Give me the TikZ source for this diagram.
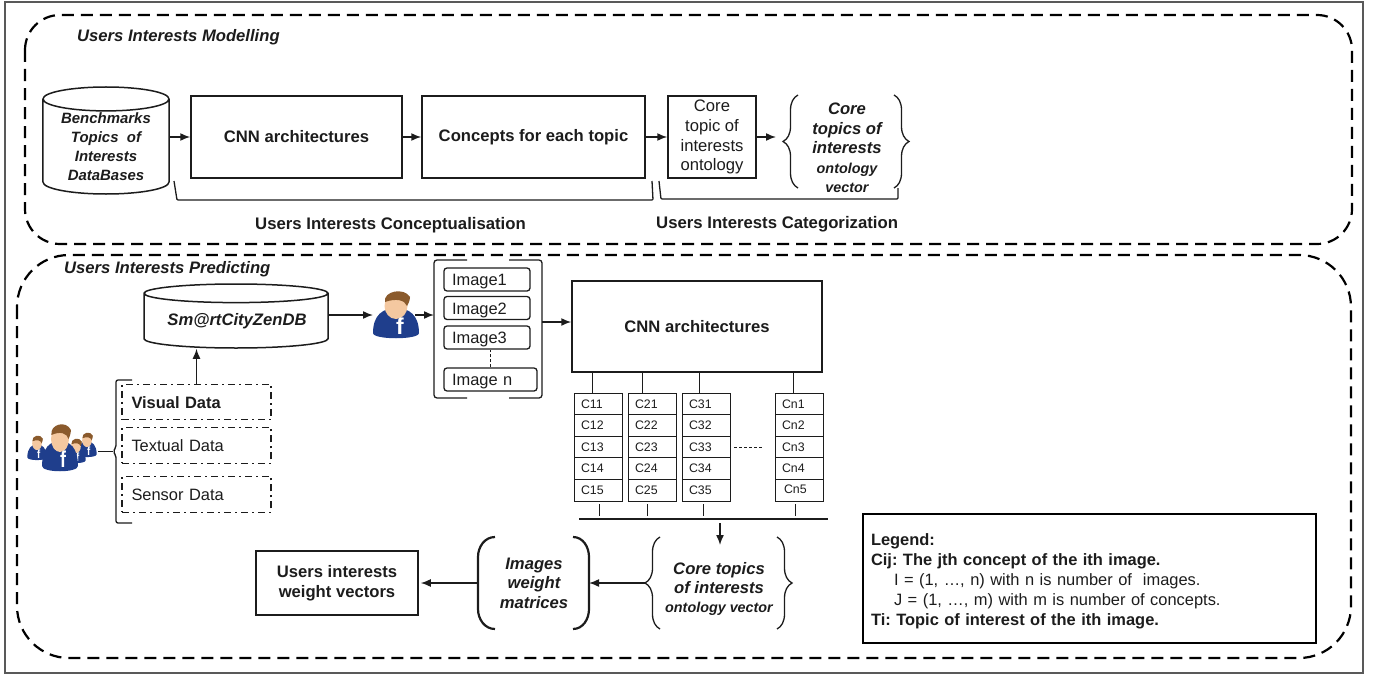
\documentclass[tikz,border=0pt]{standalone}
\usepackage{fontspec}
\setmainfont{Liberation Sans}
\usetikzlibrary{arrows.meta,shapes.geometric,decorations.pathreplacing}
\definecolor{inkc}{HTML}{1C1C1C}
\definecolor{fbblue}{HTML}{1F3E8C}
\definecolor{fbskin}{HTML}{F4C8A0}
\definecolor{fbhair}{HTML}{8A5A2C}
\tikzset{
 region/.style={draw=black,line width=2.2bp,dash pattern=on 12bp off 7bp},
 flow/.style={-{Latex[length=10bp,width=8bp]},line width=1.5bp,draw=inkc},
 plainl/.style={line width=1.3bp,draw=inkc},
 boxb/.style={draw=inkc,line width=1.5bp,align=center,text=inkc,font=\fontsize{16.7}{20}\selectfont\bfseries},
 boxr/.style={boxb,font=\fontsize{16.7}{20}\selectfont},
 captxt/.style={text=inkc,inner sep=0,font=\fontsize{16.8}{20}\selectfont\bfseries},
 capi/.style={text=inkc,inner sep=0,align=center,font=\fontsize{16.7}{19.5}\selectfont\bfseries\itshape},
 dbase/.style={draw=inkc,line width=1.5bp,cylinder,shape border rotate=90,anchor=shape center},
 imgbox/.style={draw=inkc,line width=1.3bp,rounded corners=3bp,minimum height=23bp,text width=70bp,text height=12.5bp,text depth=0bp,inner xsep=8bp,inner ysep=0,text=inkc,font=\fontsize{16.5}{20}\selectfont},
 srcbox/.style={draw=inkc,line width=1.3bp,dash pattern=on 7bp off 4bp on 2bp off 4bp,minimum width=149bp,text width=130bp,text height=12.5bp,text depth=0bp,inner xsep=9.5bp,minimum height=35.5bp,text=inkc,font=\fontsize{16.5}{20}\selectfont},
 cellc/.style={draw=inkc,line width=.8bp,minimum height=21.6bp,minimum width=48bp,text width=34bp,inner xsep=7bp,inner ysep=0,text=inkc,font=\fontsize{12.4}{14}\selectfont},
 emptyn/.style={inner sep=0,outer sep=0},
 curly/.style={draw=inkc,line width=1.3bp,decorate,decoration={brace,amplitude=15bp}},
 fbmark/.style={text=white,inner sep=0,transform shape,font=\fontsize{23}{23}\selectfont\bfseries},
 fbuser/.pic={
  \node[emptyn,minimum width=46bp,minimum height=47bp] (-box) at (0,0) {};
  \fill[fbblue] (-23,18) .. controls (-23,0) and (-13,-7) .. (0,-7) .. controls (13,-7) and (23,0) .. (23,18) .. controls (23,25) and (-23,25) .. (-23,18) -- cycle;
  \fill[fbskin] (0,-9) ellipse (11.5 and 13);
  \fill[fbhair] (-11,-13) .. controls (-13,-24) and (8,-28) .. (14,-18) .. controls (14,-14) and (12,-11) .. (11,-9) .. controls (9,-15) and (0,-17) .. (-11,-13) -- cycle;
  \node[fbmark] (-f) at (4,11) {f};
 }
}
\begin{document}
\frenchspacing
\begin{tikzpicture}[x=1bp,y=-1bp]
 \useasboundingbox (0,0) rectangle (1374,677);
 \draw[draw=black!65,line width=1.2bp] (5,2) rectangle (1363,673);
 \draw[region,rounded corners=35bp] (25,15) rectangle (1352,244);
 \draw[region,rounded corners=52bp] (17,255) rectangle (1351,658);
 % modelling
 \node[capi,anchor=west] (titlem) at (77,37.5) {Users Interests Modelling};
 \node[dbase,minimum width=126bp,minimum height=107bp,aspect=3.6] (bench) at (106,140.5) {};
 \node[capi,font=\fontsize{15}{19}\selectfont\bfseries\itshape] (benchtxt) at (106,147) {Benchmarks\\Topics\ \ of\\Interests\\DataBases};
 \node[boxb,minimum width=211bp,minimum height=82bp] (cnna) at (296.5,137) {CNN architectures};
 \node[boxb,minimum width=223bp,minimum height=82bp] (conc) at (533.5,137) {Concepts for each topic};
 \node[boxr,minimum width=88bp,minimum height=82bp,inner sep=0] (core) at (712,137) {Core\\topic of\\interests\\ontology};
 \node[emptyn,minimum width=96bp,minimum height=93bp] (veca) at (846,141.5) {};
 \node[capi] (vecatxt) at (847,148) {Core\\topics of\\interests\\{\fontsize{14.4}{18}\selectfont ontology}\\{\fontsize{14.4}{18}\selectfont vector}};
 \draw[curly] (veca.south west) -- (veca.north west);
 \draw[curly] (veca.north east) -- (veca.south east);
 \draw[flow] (cnna.west -| bench.east) -- (cnna.west);
 \draw[flow] (cnna.east) -- (conc.west);
 \draw[flow] (conc.east) -- (core.west);
 \draw[flow] (core.east) -- ([xshift=-22bp]veca.west |- core.east);
 \draw[plainl,rounded corners=1bp] (174,181) -- (177,200) -- (653,200) -- (652,181);
 \draw[plainl,rounded corners=1bp] (659,181) -- (661,199) -- (898,199) -- (898,188);
 \node[captxt,anchor=west] (capcon) at (255,225.5) {Users Interests Conceptualisation};
 \node[captxt,anchor=west] (capcat) at (656,224.5) {Users Interests Categorization};
 % predicting
 \node[capi,anchor=west] (titlep) at (64,269.5) {Users Interests Predicting};
 \node[dbase,minimum width=184bp,minimum height=64bp,aspect=2.8] (smart) at (236,316) {};
 \node[capi] (smarttxt) at (237,321) {Sm@rtCityZenDB};
 \pic (userone) at (396,315) {fbuser};
 \pic[xscale=.42,yscale=.52] (usera) at (37,448) {fbuser};
 \pic[xscale=.42,yscale=.52] (userb) at (87,445) {fbuser};
 \pic[xscale=.42,yscale=.52] (userc) at (76,451) {fbuser};
 \pic[xscale=.78,yscale=1] (userd) at (60,448) {fbuser};
 \node[emptyn,minimum width=70bp,minimum height=49bp] (users) at (63,447.5) {};
 \node[emptyn,minimum width=108bp,minimum height=138bp] (imgs) at (488,329) {};
 \draw[plainl,rounded corners=3bp] ([xshift=33bp]imgs.north west) -- (imgs.north west) -- (imgs.south west) -- ([xshift=33bp]imgs.south west);
 \draw[plainl,rounded corners=3bp] ([xshift=-33bp]imgs.north east) -- (imgs.north east) -- (imgs.south east) -- ([xshift=-33bp]imgs.south east);
 \node[imgbox,minimum width=86bp] (img1) at (487,279.5) {Image1};
 \node[imgbox,minimum width=86bp] (img2) at (487,308) {Image2};
 \node[imgbox,minimum width=86bp] (img3) at (487,337.5) {Image3};
 \node[imgbox,minimum width=93bp,text width=77bp] (imgn) at (490.5,379.5) {Image n};
 \draw[densely dashed,line width=.6bp,draw=inkc] (imgn.north) -- (imgn.north |- img3.south);
 \node[boxb,minimum width=250bp,minimum height=91bp] (cnnb) at (697,326.5) {CNN architectures};
 \draw[flow] (smart.east |- userone-box.west) -- (userone-box.west);
 \draw[flow] ([xshift=-4bp]userone-box.east) -- (imgs.west |- userone-box.east);
 \draw[flow] ([yshift=4.5bp]cnnb.west -| imgs.east) -- ([yshift=4.5bp]cnnb.west);
 \node[emptyn,minimum width=16bp,minimum height=143bp] (srcs) at (124,451.5) {};
 \draw[plainl,rounded corners=2bp] (srcs.north east) -- (srcs.north west) -- ([yshift=4bp]srcs.west) -- ([xshift=-3bp]srcs.west) -- ([yshift=-4bp]srcs.west) -- (srcs.south west) -- (srcs.south east);
 \draw[plainl] (users.east |- srcs.west) -- ([xshift=-3bp]srcs.west);
 \node[srcbox,font=\fontsize{16.5}{20}\selectfont\bfseries] (visual) at (196.5,402) {Visual Data};
 \node[srcbox] (textual) at (196.5,445.5) {Textual Data};
 \node[srcbox] (sensor) at (196.5,494.5) {Sensor Data};
 \draw[flow] (visual.north) -- (visual.north |- smart.south);
 % concept columns
 \node[cellc] (c11) at (598,403.8) {C11};
 \node[cellc] (c12) at (598,425.4) {C12};
 \node[cellc] (c13) at (598,447) {C13};
 \node[cellc] (c14) at (598,468.6) {C14};
 \node[cellc] (c15) at (598,490.2) {C15};
 \node[cellc] (c21) at (652,403.8) {C21};
 \node[cellc] (c22) at (652,425.4) {C22};
 \node[cellc] (c23) at (652,447) {C23};
 \node[cellc] (c24) at (652,468.6) {C24};
 \node[cellc] (c25) at (652,490.2) {C25};
 \node[cellc] (c31) at (706,403.8) {C31};
 \node[cellc] (c32) at (706,425.4) {C32};
 \node[cellc] (c33) at (706,447) {C33};
 \node[cellc] (c34) at (706,468.6) {C34};
 \node[cellc] (c35) at (706,490.2) {C35};
 \node[cellc] (cn1) at (799,403.8) {Cn1};
 \node[cellc] (cn2) at (799,425.4) {Cn2};
 \node[cellc] (cn3) at (799,447) {Cn3};
 \node[cellc] (cn4) at (799,468.6) {Cn4};
 \node[cellc] (cn5) at (799,490.2) {\raisebox{3bp}{\hspace{2bp}Cn5}};
 \draw[line width=.8bp,draw=inkc] ([xshift=-6bp]c11.north) -- ([xshift=-6bp]c11.north |- cnnb.south);
 \draw[line width=.8bp,draw=inkc] ([xshift=-10bp]c21.north) -- ([xshift=-10bp]c21.north |- cnnb.south);
 \draw[line width=.8bp,draw=inkc] ([xshift=-7bp]c31.north) -- ([xshift=-7bp]c31.north |- cnnb.south);
 \draw[line width=.8bp,draw=inkc] ([xshift=-6bp]cn1.north) -- ([xshift=-6bp]cn1.north |- cnnb.south);
 \draw[densely dashed,line width=.8bp,draw=inkc,shorten <=4bp,shorten >=12bp] (c33.east) -- (cn3.west);
 \coordinate (busl) at (579,519);
 \coordinate (busr) at (828,519);
 \draw[line width=1.6bp,draw=inkc] (busl) -- (busr);
 \draw[line width=.8bp,draw=inkc] ([shift={(1bp,-3bp)}]c15.south) -- ++(0,12);
 \draw[line width=.8bp,draw=inkc] ([shift={(-5bp,-3bp)}]c25.south) -- ++(0,12);
 \draw[line width=.8bp,draw=inkc] ([shift={(-3bp,-3bp)}]c35.south) -- ++(0,12);
 \draw[line width=.8bp,draw=inkc] ([shift={(-4bp,-3bp)}]cn5.south) -- ++(0,12);
 % output row
 \node[emptyn,minimum width=117bp,minimum height=92bp] (vecb) at (718.5,583) {};
 \node[capi] (vecbtxt) at (719,589) {Core topics\\of interests\\{\fontsize{14.4}{18}\selectfont ontology vector}};
 \draw[curly] (vecb.south west) -- (vecb.north west);
 \draw[curly] (vecb.north east) -- (vecb.south east);
 \coordinate (busm) at (720,523);
 \draw[flow] (busm) -- ([yshift=-8bp]vecb.north -| busm);
 \node[capi,emptyn,minimum width=78bp,minimum height=92bp] (imat) at (534,583) {Images\\weight\\matrices};
 \draw[line width=2.2bp,draw=inkc] (imat.north west) to[out=180,in=90] ++(-17,20) -- ++(0,52) to[out=-90,in=180] ++(17,20);
 \draw[line width=2.2bp,draw=inkc] (imat.north east) to[out=0,in=90] ++(16,20) -- ++(0,52) to[out=-90,in=0] ++(-16,20);
 \node[boxb,minimum width=162bp,minimum height=64bp] (uvec) at (337,583) {Users interests\\weight vectors};
 \draw[flow] ([xshift=-15bp]vecb.west) -- ([xshift=16bp]imat.east);
 \draw[flow] ([xshift=-17bp]imat.west) -- ([xshift=2bp]uvec.east);
 % legend
 \node[draw=black,line width=2bp,minimum height=129bp,minimum width=453bp] (legend) at (1089.5,578.5) {};
 \node[text width=437bp,inner sep=0,align=left,text=inkc,font=\fontsize{16.5}{20}\selectfont] (legendtxt) at (1089.5,581.5) {\textbf{Legend:}\\\textbf{Cij: The jth concept of the ith image.}\\\hspace*{23bp}I = (1, …, n) with n is number of\ \ images.\\\hspace*{23bp}J = (1, …, m) with m is number of concepts.\\\textbf{Ti: Topic of interest of the ith image.}};
\end{tikzpicture}
\end{document}
